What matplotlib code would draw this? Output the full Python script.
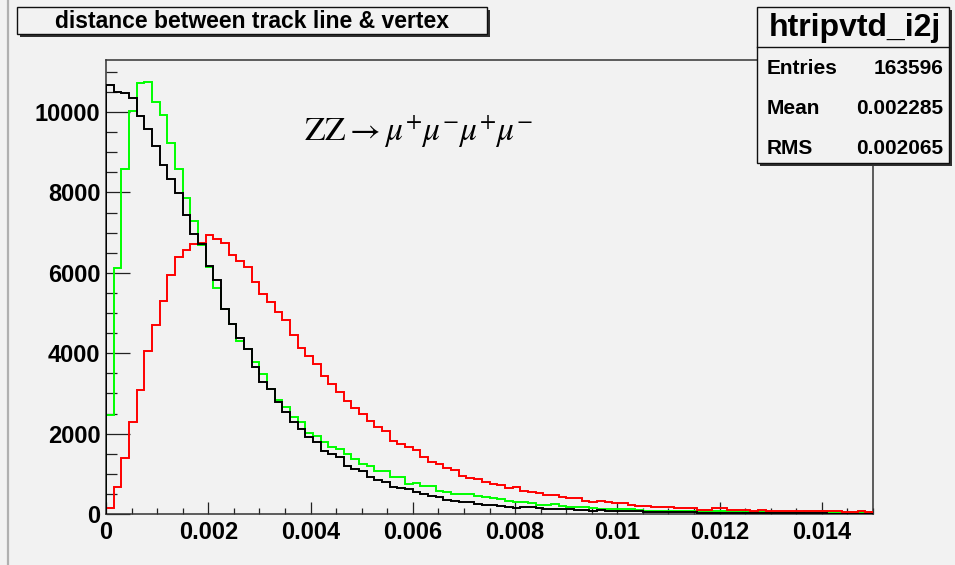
import numpy as np
import matplotlib
matplotlib.use("Agg")
import matplotlib.pyplot as plt
from matplotlib.patches import Rectangle
from matplotlib.ticker import FixedLocator, MultipleLocator

# ---- histogram definition ----
x_min, x_max, n_bins = 0.0, 0.015, 100

# red histogram
red_counts = [
    142, 664, 1393, 2297, 3085, 4055, 4702, 5307, 5946, 6386,
    6568, 6718, 6735, 6941, 6842, 6742, 6452, 6287, 6138, 5780,
    5474, 5267, 5018, 4827, 4454, 4122, 3939, 3732, 3441, 3234,
    3043, 2803, 2629, 2488, 2322, 2157, 2057, 1824, 1742, 1659,
    1601, 1427, 1302, 1244, 1136, 1103, 937, 896, 871, 788,
    746, 722, 639, 664, 580, 555, 522, 473, 473, 415,
    390, 390, 332, 307, 332, 290, 270, 265, 224, 191,
    191, 166, 166, 166, 141, 141, 141, 108, 108, 141,
    141, 108, 108, 108, 75, 108, 75, 75, 75, 75,
    75, 75, 75, 75, 75, 75, 41, 41, 66, 41,
]

# green histogram
green_counts = [
    2470, 6113, 8584, 10035, 10723, 10756, 10258, 9927, 9230, 8584,
    7855, 7282, 6693, 6153, 5623, 5100, 4727, 4313, 4105, 3773,
    3483, 3110, 2845, 2654, 2405, 2297, 2007, 1949, 1783, 1659,
    1617, 1493, 1368, 1244, 1186, 1078, 1078, 912, 912, 746,
    763, 705, 688, 580, 555, 498, 498, 498, 439, 415,
    390, 373, 332, 307, 307, 274, 224, 224, 249, 191,
    166, 166, 174, 141, 124, 124, 124, 124, 124, 100,
    83, 83, 83, 83, 66, 66, 66, 66, 66, 66,
    66, 66, 66, 41, 41, 41, 41, 41, 41, 41,
    41, 66, 66, 66, 41, 41, 41, 58, 58, 41,
]

# black histogram (htripvtd_i2j)
black_counts = [
    10674, 10500, 10475, 10343, 9894, 9579, 9163, 8683, 8335, 7986,
    7439, 6959, 6718, 6163, 5830, 5100, 4727, 4371, 4105, 3666,
    3276, 3110, 2779, 2529, 2281, 2115, 1907, 1783, 1576, 1493,
    1410, 1186, 1120, 1061, 912, 854, 804, 664, 639, 622,
    539, 498, 456, 415, 348, 332, 307, 307, 249, 232,
    224, 191, 166, 141, 174, 166, 141, 124, 124, 124,
    124, 108, 100, 83, 100, 83, 83, 66, 66, 66,
    50, 50, 41, 41, 41, 41, 41, 33, 33, 33,
    33, 25, 25, 25, 25, 25, 20, 20, 20, 20,
    17, 17, 17, 17, 12, 12, 12, 8, 8, 8,
]

x_tick_values = [0, 0.002, 0.004, 0.006, 0.008, 0.010, 0.012, 0.014]
x_tick_labels = ["0", "0.002", "0.004", "0.006", "0.008", "0.01", "0.012", "0.014"]
y_tick_values = [0, 2000, 4000, 6000, 8000, 10000]
y_tick_labels = ["0", "2000", "4000", "6000", "8000", "10000"]

title_text = "distance between track line & vertex"
stats_name = "htripvtd_i2j"
stats_rows = [("Entries", "163596"), ("Mean", "0.002285"), ("RMS", "0.002065")]
reaction = r"$\mathrm{ZZ}\rightarrow\mu^{+}\mu^{-}\mu^{+}\mu^{-}$"

# ---- drawing ----
W, H = 955, 565
bg = "#f2f2f2"
plt.rcParams["mathtext.fontset"] = "stix"

fig = plt.figure(figsize=(W / 100, H / 100), dpi=100, facecolor=bg)

left, right, top, bottom = 106, 873, 60, 514
ax = fig.add_axes([left / W, (H - bottom) / H, (right - left) / W, (bottom - top) / H])
ax.set_facecolor(bg)

edges = np.linspace(x_min, x_max, n_bins + 1)
ymax = 1.05 * max(max(red_counts), max(green_counts), max(black_counts))

ax.stairs(green_counts, edges, color="#00ff00", lw=1.4, zorder=3)
ax.stairs(red_counts, edges, color="#ff0000", lw=1.4, zorder=4)
ax.stairs(black_counts, edges, color="#000000", lw=1.4, zorder=5)

ax.set_xlim(x_min, x_max)
ax.set_ylim(0, ymax)

for s in ax.spines.values():
    s.set_color("#333333")
    s.set_linewidth(1.1)

tick_font = dict(family="Liberation Sans", weight="bold", size=17)
ax.xaxis.set_major_locator(FixedLocator(x_tick_values))
ax.set_xticklabels(x_tick_labels, **tick_font)
ax.xaxis.set_minor_locator(MultipleLocator(0.0005))
ax.yaxis.set_major_locator(FixedLocator(y_tick_values))
ax.set_yticklabels(y_tick_labels, **tick_font)
ax.yaxis.set_minor_locator(MultipleLocator(500))

ax.tick_params(axis="x", which="major", direction="in", length=8.6, width=0.9, pad=5, color="#222222")
ax.tick_params(axis="x", which="minor", direction="in", length=4.3, width=0.9, color="#222222")
ax.tick_params(axis="y", which="major", direction="in", length=17.3, width=0.9, pad=4, color="#222222")
ax.tick_params(axis="y", which="minor", direction="in", length=8.0, width=0.9, color="#222222")

# ---- pixel-space overlay for boxes and free text ----
ov = fig.add_axes([0, 0, 1, 1], zorder=10)
ov.set_xlim(0, W)
ov.set_ylim(H, 0)
ov.axis("off")

# pad border on the left
ov.plot([8, 8], [0, H], color="#b0b0b0", lw=1.6)

def shadow_box(x0, y0, x1, y1):
    ov.add_patch(Rectangle((x0 + 3, y0 + 3), x1 - x0, y1 - y0, facecolor="#303030", edgecolor="none", zorder=1))
    ov.add_patch(Rectangle((x0, y0), x1 - x0, y1 - y0, facecolor=bg, edgecolor="#101010", lw=1.0, zorder=2))

# title box
shadow_box(17, 7, 487, 34)
ov.text(252, 21, title_text, ha="center", va="center", family="Liberation Sans",
        weight="bold", size=16.5, zorder=3)

# statistics box
shadow_box(757, 7, 949, 163)
ov.plot([757, 949], [47, 47], color="#101010", lw=1.0, zorder=3)
ov.text(855, 28, stats_name, ha="center", va="center", family="Liberation Sans",
        weight="bold", size=23, zorder=3)
for (label, value), yy in zip(stats_rows, [68, 108, 148]):
    ov.text(767, yy, label, ha="left", va="center", family="Liberation Sans",
            weight="bold", size=15, zorder=3)
    ov.text(943, yy, value, ha="right", va="center", family="Liberation Sans",
            weight="bold", size=15, zorder=3)

# process label
ov.text(304, 141, reaction, ha="left", va="baseline", size=24, zorder=3)

fig.savefig("out.png", dpi=100, facecolor=bg)
